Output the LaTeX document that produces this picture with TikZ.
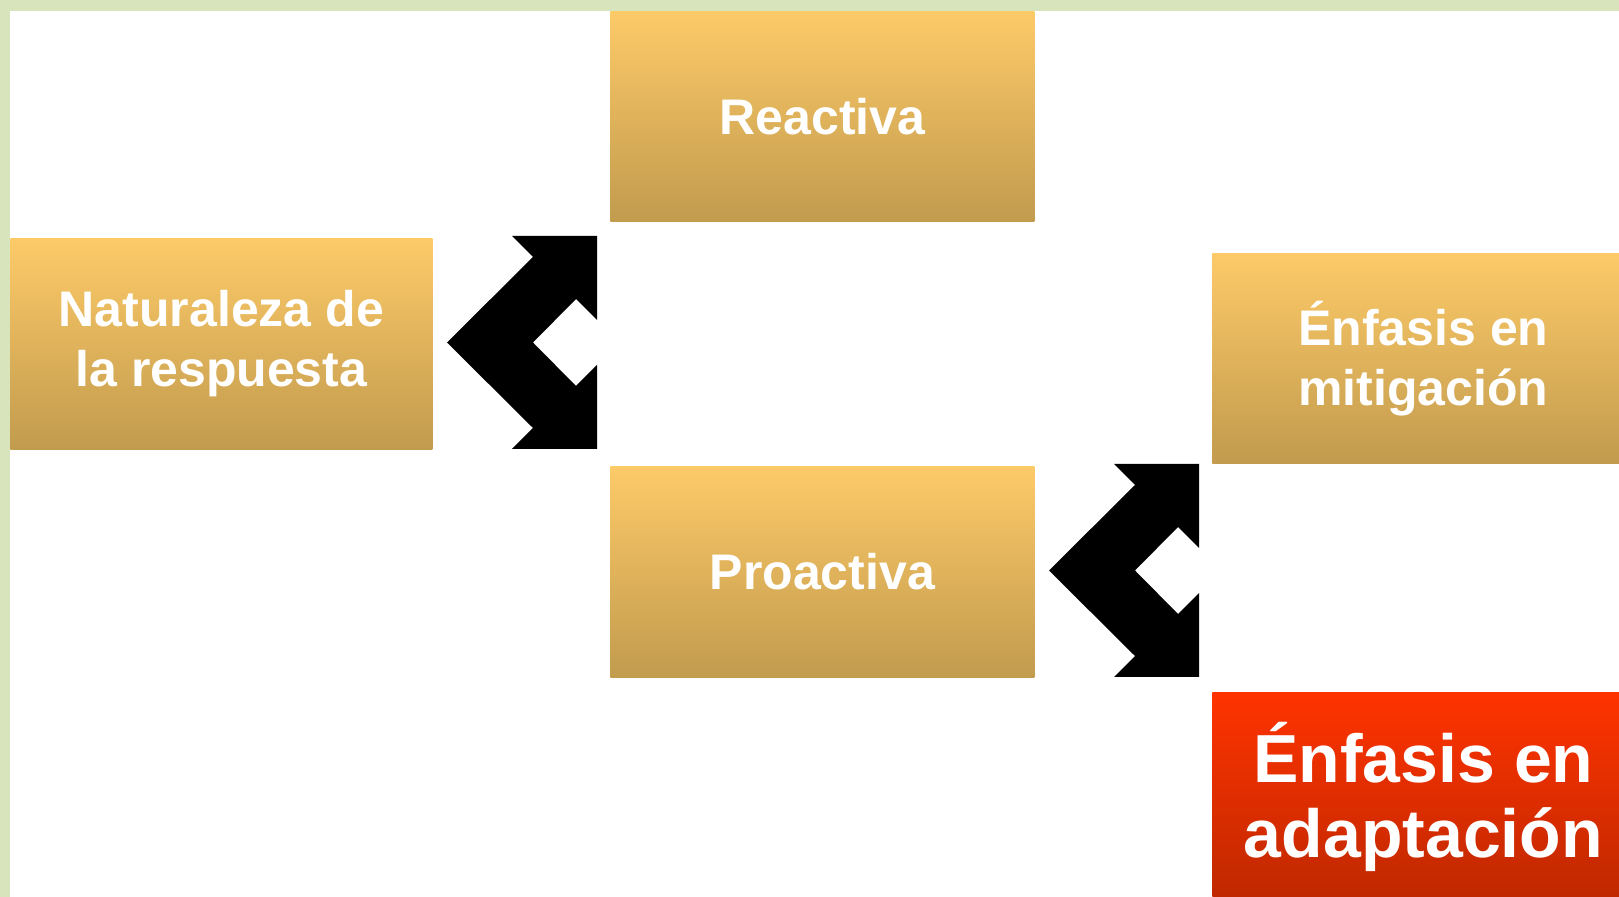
\documentclass[tikz,border=0pt]{standalone}
\usepackage{fontspec}
\setmainfont{Liberation Sans}
\usetikzlibrary{positioning}
\definecolor{bordergreen}{RGB}{216,228,188}
\definecolor{goldtop}{RGB}{253,202,104}
\definecolor{goldbot}{RGB}{194,155,78}
\definecolor{redtop}{RGB}{255,51,0}
\definecolor{redbot}{RGB}{190,40,0}
\tikzset{
  goldbox/.style={rectangle, anchor=north west, inner sep=0pt,
    top color=goldtop, bottom color=goldbot, draw=none,
    text=white, align=center,
    font=\bfseries\fontsize{25}{30}\selectfont},
  redbox/.style={goldbox, top color=redtop, bottom color=redbot,
    font=\bfseries\fontsize{34}{37.5}\selectfont},
  bracearrow/.pic={
    \fill[black] (0,0) -- (85,0) -- (85,84) -- (64,63) -- (21,106.5)
      -- (64,150) -- (85,129) -- (85,213) -- (0,213) -- (21,192)
      -- (-65,106.5) -- (21,21) -- cycle;
  }
}
\begin{document}
\begin{tikzpicture}[x=0.5pt,y=-0.5pt]
\useasboundingbox (0,0) rectangle (1619,897);
\clip (0,0) rectangle (1619,897);
\fill[white] (0,0) rectangle (1619,897);
% boxes
\node[goldbox, minimum width=211pt, minimum height=105.5pt] (nat) at (10,238) {Naturaleza de\\la respuesta};
\node[goldbox, minimum width=212pt, minimum height=105pt] (rea) at (610,11) {Reactiva};
\node[goldbox, minimum width=212pt, minimum height=105.5pt] (pro) at (610,466) {Proactiva};
\node[goldbox, minimum width=211pt, minimum height=105pt] (mit) at (1212,253) {Énfasis en\\mitigación};
\node[redbox, minimum width=211pt, minimum height=105pt] (ada) at (1212,692) {Énfasis en\\adaptación};
% bracket arrows
\coordinate (a1) at (512,236);
\coordinate (a2) at (1114,464);
\pic at (a1) {bracearrow};
\pic at (a2) {bracearrow};
% border
\fill[bordergreen] (0,0) rectangle (1619,11);
\fill[bordergreen] (0,0) rectangle (10,897);
\end{tikzpicture}
\end{document}
